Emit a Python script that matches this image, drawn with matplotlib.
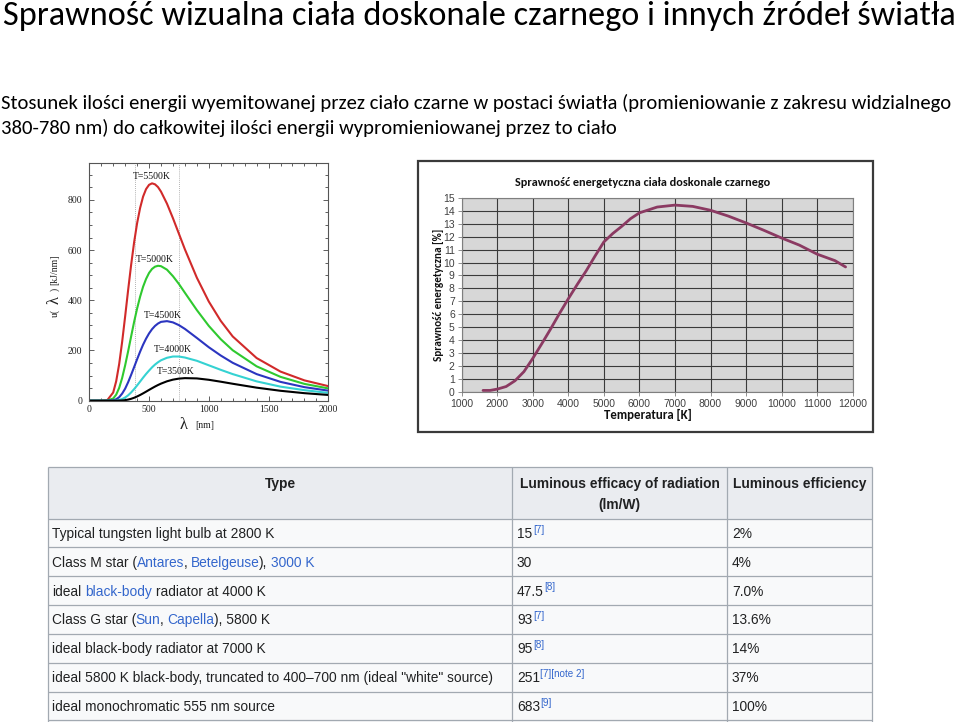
import matplotlib
matplotlib.use('Agg')
import matplotlib.pyplot as plt
from matplotlib.patches import Rectangle
from matplotlib.ticker import MultipleLocator
from matplotlib import font_manager as fm

# ---------------- data ----------------
title_text = "Sprawność wizualna ciała doskonale czarnego i innych źródeł światła"
subtitle_1 = "Stosunek ilości energii wyemitowanej przez ciało czarne w postaci światła (promieniowanie z zakresu widzialnego"
subtitle_2 = "380-780 nm) do całkowitej ilości energii wypromieniowanej przez to ciało"

# Planck curves (left chart)
wavelength = [0, 50, 100, 150, 200, 225, 250, 275, 300, 325, 350, 375, 400, 425, 450, 475, 500,
              525, 550, 575, 600, 650, 700, 750, 800, 900, 1000, 1100, 1200, 1400, 1600, 1800, 2000]
u_5500 = [0, 0, 0, 1.8, 32.6, 77.5, 146, 235, 336, 441, 541, 631, 707, 767.5, 813, 843, 860,
          866, 862, 851, 833, 785, 727, 665, 603, 490, 395, 318, 256, 170, 116, 81, 58]
u_5000 = [0, 0, 0, 0.3, 8.8, 24.2, 51, 90.8, 141, 197, 256, 314, 367, 414, 454, 485, 509,
          525, 534, 537.5, 536, 522, 496, 465, 430, 361, 298, 245, 201, 137, 95, 67, 49]
u_4500 = [0, 0, 0, 0, 1.8, 5.8, 14, 28.4, 48, 73.7, 103, 133.8, 165, 195.2, 223, 247.2, 268,
          284.9, 298, 307.5, 314, 317, 312, 301, 286, 250, 213, 180, 151, 106, 75, 54, 40]
u_4000 = [0, 0, 0, 0, 0.2, 1.0, 2.9, 6.6, 12.8, 21.5, 32.8, 46.1, 60.8, 76.2, 91.7, 106.5, 120,
          132.9, 144, 153.2, 161, 171, 176, 176, 172, 159, 141, 123, 106, 77, 56, 42, 31]
u_3500 = [0, 0, 0, 0, 0, 0.1, 0.4, 1.0, 2.3, 4.4, 7.5, 11.7, 16.8, 22.7, 29.2, 36.0, 43,
          49.8, 56.4, 62.5, 68, 77.3, 83.9, 88, 89.9, 88.8, 83.3, 75.7, 67.5, 52, 39.5, 30, 22.9]
curve_labels = ["T=5500K", "T=5000K", "T=4500K", "T=4000K", "T=3500K"]
label_x = [525, 550, 619, 695, 725]
label_y = [893, 563, 341, 202, 116]
visible_edges = [380, 750]
left_xticks = [0, 500, 1000, 1500, 2000]
left_yticks = [0, 200, 400, 600, 800]

# Efficiency curve (right chart)
temperature = [1600, 1800, 2000, 2250, 2500, 2750, 3000, 3250, 3500, 3750, 4000, 4250, 4500,
               4750, 5000, 5250, 5500, 5750, 6000, 6500, 7000, 7500, 8000, 8500, 9000, 9500,
               10000, 10500, 11000, 11500, 11800]
efficiency = [0.1, 0.1, 0.2, 0.4, 0.85, 1.55, 2.58, 3.7, 4.85, 6.05, 7.2, 8.3, 9.35,
              10.5, 11.6, 12.25, 12.8, 13.4, 13.85, 14.3, 14.45, 14.35, 14.05, 13.6, 13.07, 12.5,
              11.9, 11.35, 10.65, 10.15, 9.66]
right_xticks = [1000, 2000, 3000, 4000, 5000, 6000, 7000, 8000, 9000, 10000, 11000, 12000]
right_yticks = list(range(0, 16))
right_title = "Sprawność energetyczna ciała doskonale czarnego"
right_ylabel = "Sprawność energetyczna [%]"
right_xlabel = "Temperatura [K]"

# Table
header_cols = ["Type", "Luminous efficacy of radiation", "(lm/W)", "Luminous efficiency"]
BL = "link"
BK = "text"
type_parts = [
    [("Typical tungsten light bulb at 2800 K", BK, False)],
    [("Class M star (", BK, False), ("Antares", BL, False), (",", BK, False),
     ("Betelgeuse", BL, True), (")," , BK, False), ("3000 K", BL, True)],
    [("ideal", BK, False), ("black-body", BL, True), ("radiator at 4000 K", BK, True)],
    [("Class G star (", BK, False), ("Sun", BL, False), (",", BK, False),
     ("Capella", BL, True), ("), 5800 K", BK, False)],
    [("ideal black-body radiator at 7000 K", BK, False)],
    [("ideal 5800 K black-body, truncated to 400–700 nm (ideal \"white\" source)", BK, False)],
    [("ideal monochromatic 555 nm source", BK, False)],
]
efficacy = ["15", "30", "47.5", "93", "95", "251", "683"]
efficacy_refs = ["[7]", "", "[8]", "[7]", "[8]", "[7][note 2]", "[9]"]
luminous_eff = ["2%", "4%", "7.0%", "13.6%", "14%", "37%", "100%"]

# ---------------- fonts ----------------
names = {f.name for f in fm.fontManager.ttflist}
CAL = 'Carlito' if 'Carlito' in names else 'Lato'
NARROW = 'Liberation Sans Narrow' if 'Liberation Sans Narrow' in names else 'Liberation Sans'
SPACE_EM = 0.228 if NARROW.endswith('Narrow') else 0.278
SERIF = 'Liberation Serif'
SANS = 'Liberation Sans'

W, H = 960, 722
fig = plt.figure(figsize=(9.6, 7.22), dpi=100)
fig.patch.set_facecolor('white')


def fr(x0, y0, x1, y1):
    return [x0 / W, 1 - y1 / H, (x1 - x0) / W, (y1 - y0) / H]


ov = fig.add_axes([0, 0, 1, 1])
ov.set_xlim(0, W)
ov.set_ylim(H, 0)
ov.axis('off')
R = fig.canvas.get_renderer()


def fit(t, target, dim='w'):
    bb = t.get_window_extent(R)
    cur = bb.width if dim == 'w' else bb.height
    t.set_fontsize(t.get_fontsize() * target / cur)
    return t.get_fontsize()


# ---------------- titles ----------------
t = ov.text(3, 16, title_text, ha='left', va='center', family=CAL, fontsize=26, color='black')
fit(t, 954)
s1 = ov.text(1, 103, subtitle_1, ha='left', va='center', family=CAL, fontsize=14, color='black')
fs_sub = fit(s1, 957)
ov.text(1, 128, subtitle_2, ha='left', va='center', family=CAL, fontsize=fs_sub, color='black')

# ---------------- left chart ----------------
ax1 = fig.add_axes(fr(89.3, 163, 328.3, 400.7))
colors = ['#d12a2a', '#2fc92f', '#2b35c0', '#35d2d2', '#000000']
for ys, c in zip([u_5500, u_5000, u_4500, u_4000, u_3500], colors):
    ax1.plot(wavelength, ys, color=c, lw=1.5, solid_joinstyle='round')
for v in visible_edges:
    ax1.axvline(v, color='#9a9a9a', lw=0.6, ls=(0, (1, 1.5)), zorder=0)
for lab, lx, ly in zip(curve_labels, label_x, label_y):
    ax1.text(lx, ly, lab, ha='center', va='center', family=SERIF, fontsize=7, color='#111111')
ax1.set_xlim(0, 2000)
ax1.set_ylim(0, 947)
ax1.set_xticks(left_xticks)
ax1.set_xticklabels([str(v) for v in left_xticks], fontfamily=SERIF, fontsize=7)
ax1.set_yticks(left_yticks)
ax1.set_yticklabels([str(v) for v in left_yticks], fontfamily=SERIF, fontsize=7)
ax1.xaxis.set_minor_locator(MultipleLocator(100))
ax1.yaxis.set_minor_locator(MultipleLocator(50))
ax1.tick_params(which='both', direction='in', top=True, right=True, color='#444444',
                labelcolor='#222222', width=0.6)
ax1.tick_params(which='major', length=3.5)
ax1.tick_params(which='minor', length=2)
ax1.tick_params(axis='y', pad=5)
ax1.tick_params(axis='x', pad=3)
for sp in ax1.spines.values():
    sp.set_color('#555555')
    sp.set_linewidth(0.8)

ov.text(184, 425, 'λ', ha='center', va='center', family=SERIF, fontsize=12, color='#222222')
ov.text(205, 426, '[nm]', ha='center', va='center', family=SERIF, fontsize=7, color='#222222')
ov.text(55, 313, 'u(', rotation=90, ha='center', va='center', family=SERIF, fontsize=7, color='#222222')
ov.text(55, 300, 'λ', rotation=90, ha='center', va='center', family=SERIF, fontsize=12, color='#222222')
ov.text(55, 289, ')', rotation=90, ha='center', va='center', family=SERIF, fontsize=7, color='#222222')
ov.text(55, 270, '[kJ/nm]', rotation=90, ha='center', va='center', family=SERIF, fontsize=7, color='#222222')

# ---------------- right chart ----------------
ov.add_patch(Rectangle((417.5, 160.5), 455, 271.5, facecolor='white', edgecolor='#3a3a3a', lw=1.6))
ax2 = fig.add_axes(fr(461.7, 198, 852.7, 391.7))
ax2.set_facecolor('#d7d7d7')
ax2.plot(temperature, efficiency, color='#8b3a62', lw=2.0, solid_capstyle='round',
         solid_joinstyle='round', zorder=3)
ax2.set_xlim(1000, 12000)
ax2.set_ylim(0, 15)
ax2.set_xticks(right_xticks)
ax2.set_xticklabels([str(v) for v in right_xticks], fontfamily=SANS, fontsize=7.5)
ax2.set_yticks(right_yticks)
ax2.set_yticklabels([str(v) for v in right_yticks], fontfamily=SANS, fontsize=7.5)
ax2.grid(True, color='#3a3a3a', lw=0.8)
ax2.set_axisbelow(True)
ax2.tick_params(length=3, width=0.6, color='#7f7f7f', labelcolor='#404040', pad=2)
for sp in ax2.spines.values():
    sp.set_color('#7f7f7f')
    sp.set_linewidth(0.8)

tt = ov.text(642.5, 183, right_title, ha='center', va='center', family=CAL, fontweight='bold',
             fontsize=9, color='#111111')
fit(tt, 255)
yl = ov.text(438.3, 294.7, right_ylabel, rotation=90, ha='center', va='center', family=CAL,
             fontweight='bold', fontsize=9, color='#111111')
fit(yl, 133, 'h')
xl = ov.text(648.3, 415.3, right_xlabel, ha='center', va='center', family=CAL, fontweight='bold',
             fontsize=9, color='#111111')
fit(xl, 88)

# ---------------- table ----------------
TX0, TX1, TX2, TX3 = 48, 512, 727, 872
TOP, HEAD_BOT = 467, 518.6
row_h = 28.83
row_bounds = [HEAD_BOT + i * row_h for i in range(8)]
line_c = '#a2a9b1'
ov.add_patch(Rectangle((TX0, TOP), TX3 - TX0, H - TOP, facecolor='#f8f9fa', edgecolor='none'))
ov.add_patch(Rectangle((TX0, TOP), TX3 - TX0, HEAD_BOT - TOP, facecolor='#eaecf0', edgecolor='none'))
ov.hlines([TOP] + row_bounds, TX0, TX3, color=line_c, lw=0.9)
ov.vlines([TX0, TX1, TX2, TX3], TOP, H, color=line_c, lw=0.9)

clip = Rectangle((TX0, TOP), TX3 - TX0 - 1, H - TOP, transform=ov.transData)
col_map = {BK: '#202122', BL: '#3366cc'}

probe = ov.text(0, 0, type_parts[0][0][0], family=NARROW, fontsize=10)
fs_tab = fit(probe, 222)
probe.remove()


def rich(x, yc, parts, size, sup=None):
    em = size * 100 / 72
    prev = ov.text(x, yc + 0.36 * em, parts[0][0], color=col_map[parts[0][1]], fontsize=size,
                   family=NARROW, ha='left', va='baseline')
    for s, kind, gap in parts[1:]:
        dx = SPACE_EM * em if gap else -0.5
        prev = ov.annotate(s, xy=(1, 0), xycoords=prev, xytext=(dx, 0), textcoords='offset pixels',
                           color=col_map[kind], fontsize=size, family=NARROW, ha='left', va='bottom')
    if sup:
        fs2 = size * 0.72
        dy = 0.61 * em - 0.21 * fs2 * 100 / 72
        ov.annotate(sup, xy=(1, 0), xycoords=prev, xytext=(0.5, dy), textcoords='offset pixels',
                    color=col_map[BL], fontsize=fs2, family=NARROW, ha='left', va='bottom')


# header
ov.text((TX0 + TX1) / 2, 484, header_cols[0], ha='center', va='center', family=NARROW,
        fontweight='bold', fontsize=fs_tab, color='#202122')
ov.text((TX1 + TX2) / 2, 484, header_cols[1], ha='center', va='center', family=NARROW,
        fontweight='bold', fontsize=fs_tab, color='#202122')
ov.text((TX1 + TX2) / 2, 505, header_cols[2], ha='center', va='center', family=NARROW,
        fontweight='bold', fontsize=fs_tab, color='#202122')
h3 = ov.text(733, 484, header_cols[3], ha='left', va='center', family=NARROW,
             fontweight='bold', fontsize=fs_tab, color='#202122')
h3.set_clip_path(clip)

for i in range(len(type_parts)):
    yc = (row_bounds[i] + row_bounds[i + 1]) / 2
    rich(52, yc, type_parts[i], fs_tab)
    rich(517, yc, [(efficacy[i], BK, False)], fs_tab, sup=efficacy_refs[i] or None)
    rich(732, yc, [(luminous_eff[i], BK, False)], fs_tab)

fig.savefig('out.png', dpi=100, facecolor='white')
